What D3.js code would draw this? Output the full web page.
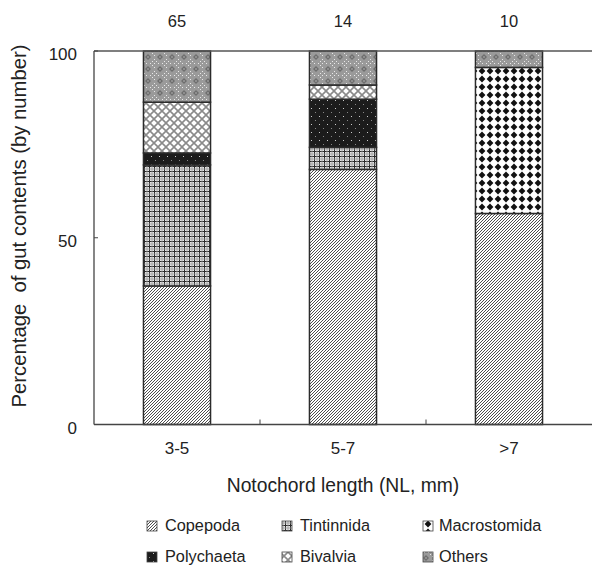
<!DOCTYPE html>
<html>
<head>
<meta charset="utf-8">
<script src="https://cdn.jsdelivr.net/npm/d3@7"></script>
<style>
  body { margin: 0; background: #fff; }
  svg { display: block; font-family: "Liberation Sans", Arial, sans-serif; }
</style>
</head>
<body>
<div id="chart"></div>
<script>
// data (percent by number)
const categories = ["3-5", "5-7", ">7"];
const sampleSizes = [65, 14, 10];
const preyNames = ["Copepoda", "Tintinnida", "Macrostomida", "Polychaeta", "Bivalvia", "Others"];
const copepoda = [37.1, 68.3, 56.5];
const tintinnida = [32.4, 5.9, 0];
const macrostomida = [0, 0, 39.1];
const polychaeta = [3.2, 12.9, 0];
const bivalvia = [13.6, 3.8, 0];
const others = [13.7, 9.1, 4.4];
const yTicks = [0, 50, 100];

const seriesValues = [copepoda, tintinnida, macrostomida, polychaeta, bivalvia, others];
const rows = categories.map((c, i) => {
    const r = { cat: c };
    preyNames.forEach((p, j) => { r[p] = seriesValues[j][i]; });
    return r;
});

const W = 592, H = 566;
const margin = { top: 51, right: 0, bottom: 141.5, left: 94 };
const innerW = W - margin.left - margin.right;
const innerH = H - margin.top - margin.bottom;

const svg = d3.select("#chart").append("svg")
    .attr("width", W)
    .attr("height", H);

// fill patterns
const defs = svg.append("defs");
const pat = (id, size) => defs.append("pattern")
    .attr("id", id)
    .attr("patternUnits", "userSpaceOnUse")
    .attr("width", size)
    .attr("height", size);

let p = pat("p-copepoda", 3);
p.append("rect").attr("width", 3).attr("height", 3).attr("fill", "#fff");
p.append("path").attr("d", "M-1,1 L1,-1 M0,3 L3,0 M2,4 L4,2")
    .attr("stroke", "#3a3a3a").attr("stroke-width", 0.9);

p = pat("p-tintinnida", 5);
p.append("rect").attr("width", 5).attr("height", 5).attr("fill", "#e6e6e6");
p.append("path").attr("d", "M0,0.5 H5 M0.5,0 V5")
    .attr("stroke", "#2a2a2a").attr("stroke-width", 1);
p.append("path").attr("d", "M0,3 H5 M3,0 V5")
    .attr("stroke", "#999").attr("stroke-width", 0.8);

p = pat("p-macrostomida", 8);
p.append("rect").attr("width", 8).attr("height", 8).attr("fill", "#fff");
p.append("path").attr("d", "M4,0.6 L7.4,4 L4,7.4 L0.6,4 Z").attr("fill", "#111");

p = pat("p-polychaeta", 8);
p.append("rect").attr("width", 8).attr("height", 8).attr("fill", "#1c1c1c");
p.append("rect").attr("x", 1).attr("y", 1).attr("width", 1).attr("height", 1).attr("fill", "#ccc");
p.append("rect").attr("x", 5).attr("y", 5).attr("width", 1).attr("height", 1).attr("fill", "#888");

p = pat("p-bivalvia", 8);
p.append("rect").attr("width", 8).attr("height", 8).attr("fill", "#fff");
p.append("path").attr("d", "M0,0 L8,8 M8,0 L0,8")
    .attr("stroke", "#8a8a8a").attr("stroke-width", 1.6);

p = pat("p-others", 12);
p.append("rect").attr("width", 12).attr("height", 12).attr("fill", "#9a9a9a");
p.append("path").attr("d", "M6,3 L9,6 L6,9 L3,6 Z").attr("fill", "#6e6e6e");
p.append("rect").attr("x", 5.5).attr("y", 5.5).attr("width", 1).attr("height", 1).attr("fill", "#eee");
[[0, 0], [4, 0], [8, 0], [0, 4], [0, 8], [10, 2], [2, 10], [10, 10]].forEach(([x, y]) => {
    p.append("rect").attr("x", x).attr("y", y).attr("width", 1).attr("height", 1).attr("fill", "#e8e8e8");
});

const fillOf = name => `url(#p-${name.toLowerCase()})`;

const g = svg.append("g").attr("transform", `translate(${margin.left},${margin.top})`);

const x = d3.scaleBand()
    .domain(categories)
    .range([0, innerW])
    .paddingInner(0.596)
    .paddingOuter(0.298);

const y = d3.scaleLinear()
    .domain([0, 100])
    .range([innerH, 0]);

const stacked = d3.stack().keys(preyNames)(rows);

// bars
g.selectAll("g.layer")
    .data(stacked)
    .enter()
    .append("g")
    .attr("class", "layer")
    .attr("fill", d => fillOf(d.key))
    .selectAll("rect")
    .data(d => d.filter(s => s[1] - s[0] > 0))
    .enter()
    .append("rect")
    .attr("x", d => x(d.data.cat))
    .attr("y", d => y(d[1]))
    .attr("width", x.bandwidth())
    .attr("height", d => y(d[0]) - y(d[1]))
    .attr("stroke", "#2b2b2b")
    .attr("stroke-width", 1.5);

// frame: left, bottom, top
g.append("line").attr("x1", 0).attr("x2", innerW).attr("y1", 0).attr("y2", 0)
    .attr("stroke", "#555").attr("stroke-width", 1.3);
g.append("line").attr("x1", 0).attr("x2", innerW).attr("y1", innerH).attr("y2", innerH)
    .attr("stroke", "#444").attr("stroke-width", 1.3);
g.append("line").attr("x1", 0).attr("x2", 0).attr("y1", 0).attr("y2", innerH)
    .attr("stroke", "#444").attr("stroke-width", 1.3);

// y axis ticks (inward) and labels
const yAxis = g.append("g");
yAxis.selectAll("line")
    .data(yTicks)
    .enter()
    .append("line")
    .attr("x1", 0).attr("x2", 4)
    .attr("y1", d => y(d)).attr("y2", d => y(d))
    .attr("stroke", "#444");
yAxis.selectAll("text")
    .data(yTicks)
    .enter()
    .append("text")
    .attr("x", -17)
    .attr("y", d => y(d) + 9)
    .attr("text-anchor", "end")
    .attr("font-size", 17)
    .attr("fill", "#222")
    .text(d => d);

// x ticks between groups (inward)
const dividers = categories.slice(1).map(c => x(c) - x.step() * x.paddingInner() / 2);
g.selectAll("line.xtick")
    .data(dividers)
    .enter()
    .append("line")
    .attr("class", "xtick")
    .attr("x1", d => d).attr("x2", d => d)
    .attr("y1", innerH).attr("y2", innerH - 5)
    .attr("stroke", "#444");

g.selectAll("text.xlab")
    .data(categories)
    .enter()
    .append("text")
    .attr("class", "xlab")
    .attr("x", d => x(d) + x.bandwidth() / 2)
    .attr("y", 454 - margin.top)
    .attr("text-anchor", "middle")
    .attr("font-size", 17)
    .attr("fill", "#222")
    .text(d => d);

// sample sizes above bars
g.selectAll("text.n")
    .data(categories)
    .enter()
    .append("text")
    .attr("class", "n")
    .attr("x", d => x(d) + x.bandwidth() / 2)
    .attr("y", 27 - margin.top)
    .attr("text-anchor", "middle")
    .attr("font-size", 16.5)
    .attr("fill", "#222")
    .text((d, i) => sampleSizes[i]);

// axis titles
g.append("text")
    .attr("x", innerW / 2)
    .attr("y", 492 - margin.top)
    .attr("text-anchor", "middle")
    .attr("font-size", 19.3)
    .attr("fill", "#222")
    .text("Notochord length (NL, mm)");

svg.append("text")
    .attr("transform", "translate(26,226) rotate(-90)")
    .attr("text-anchor", "middle")
    .attr("font-size", 20.3)
    .attr("fill", "#222")
    .attr("xml:space", "preserve")
    .text("Percentage  of gut contents (by number)");

// legend
const legendIconX = [147, 282, 423];
const legendTextX = [165, 300, 439];
const legendBase = [531, 562];
const legend = svg.append("g");
preyNames.forEach((name, i) => {
    const c = i % 3;
    const ly = legendBase[Math.floor(i / 3)];
    legend.append("rect")
        .attr("x", legendIconX[c]).attr("y", ly - 10)
        .attr("width", 10).attr("height", 10)
        .attr("fill", fillOf(name))
        .attr("stroke", "#444")
        .attr("stroke-width", 0.8);
    legend.append("text")
        .attr("x", legendTextX[c])
        .attr("y", ly)
        .attr("font-size", 16.3)
        .attr("fill", "#222")
        .text(name);
});
</script>
</body>
</html>
